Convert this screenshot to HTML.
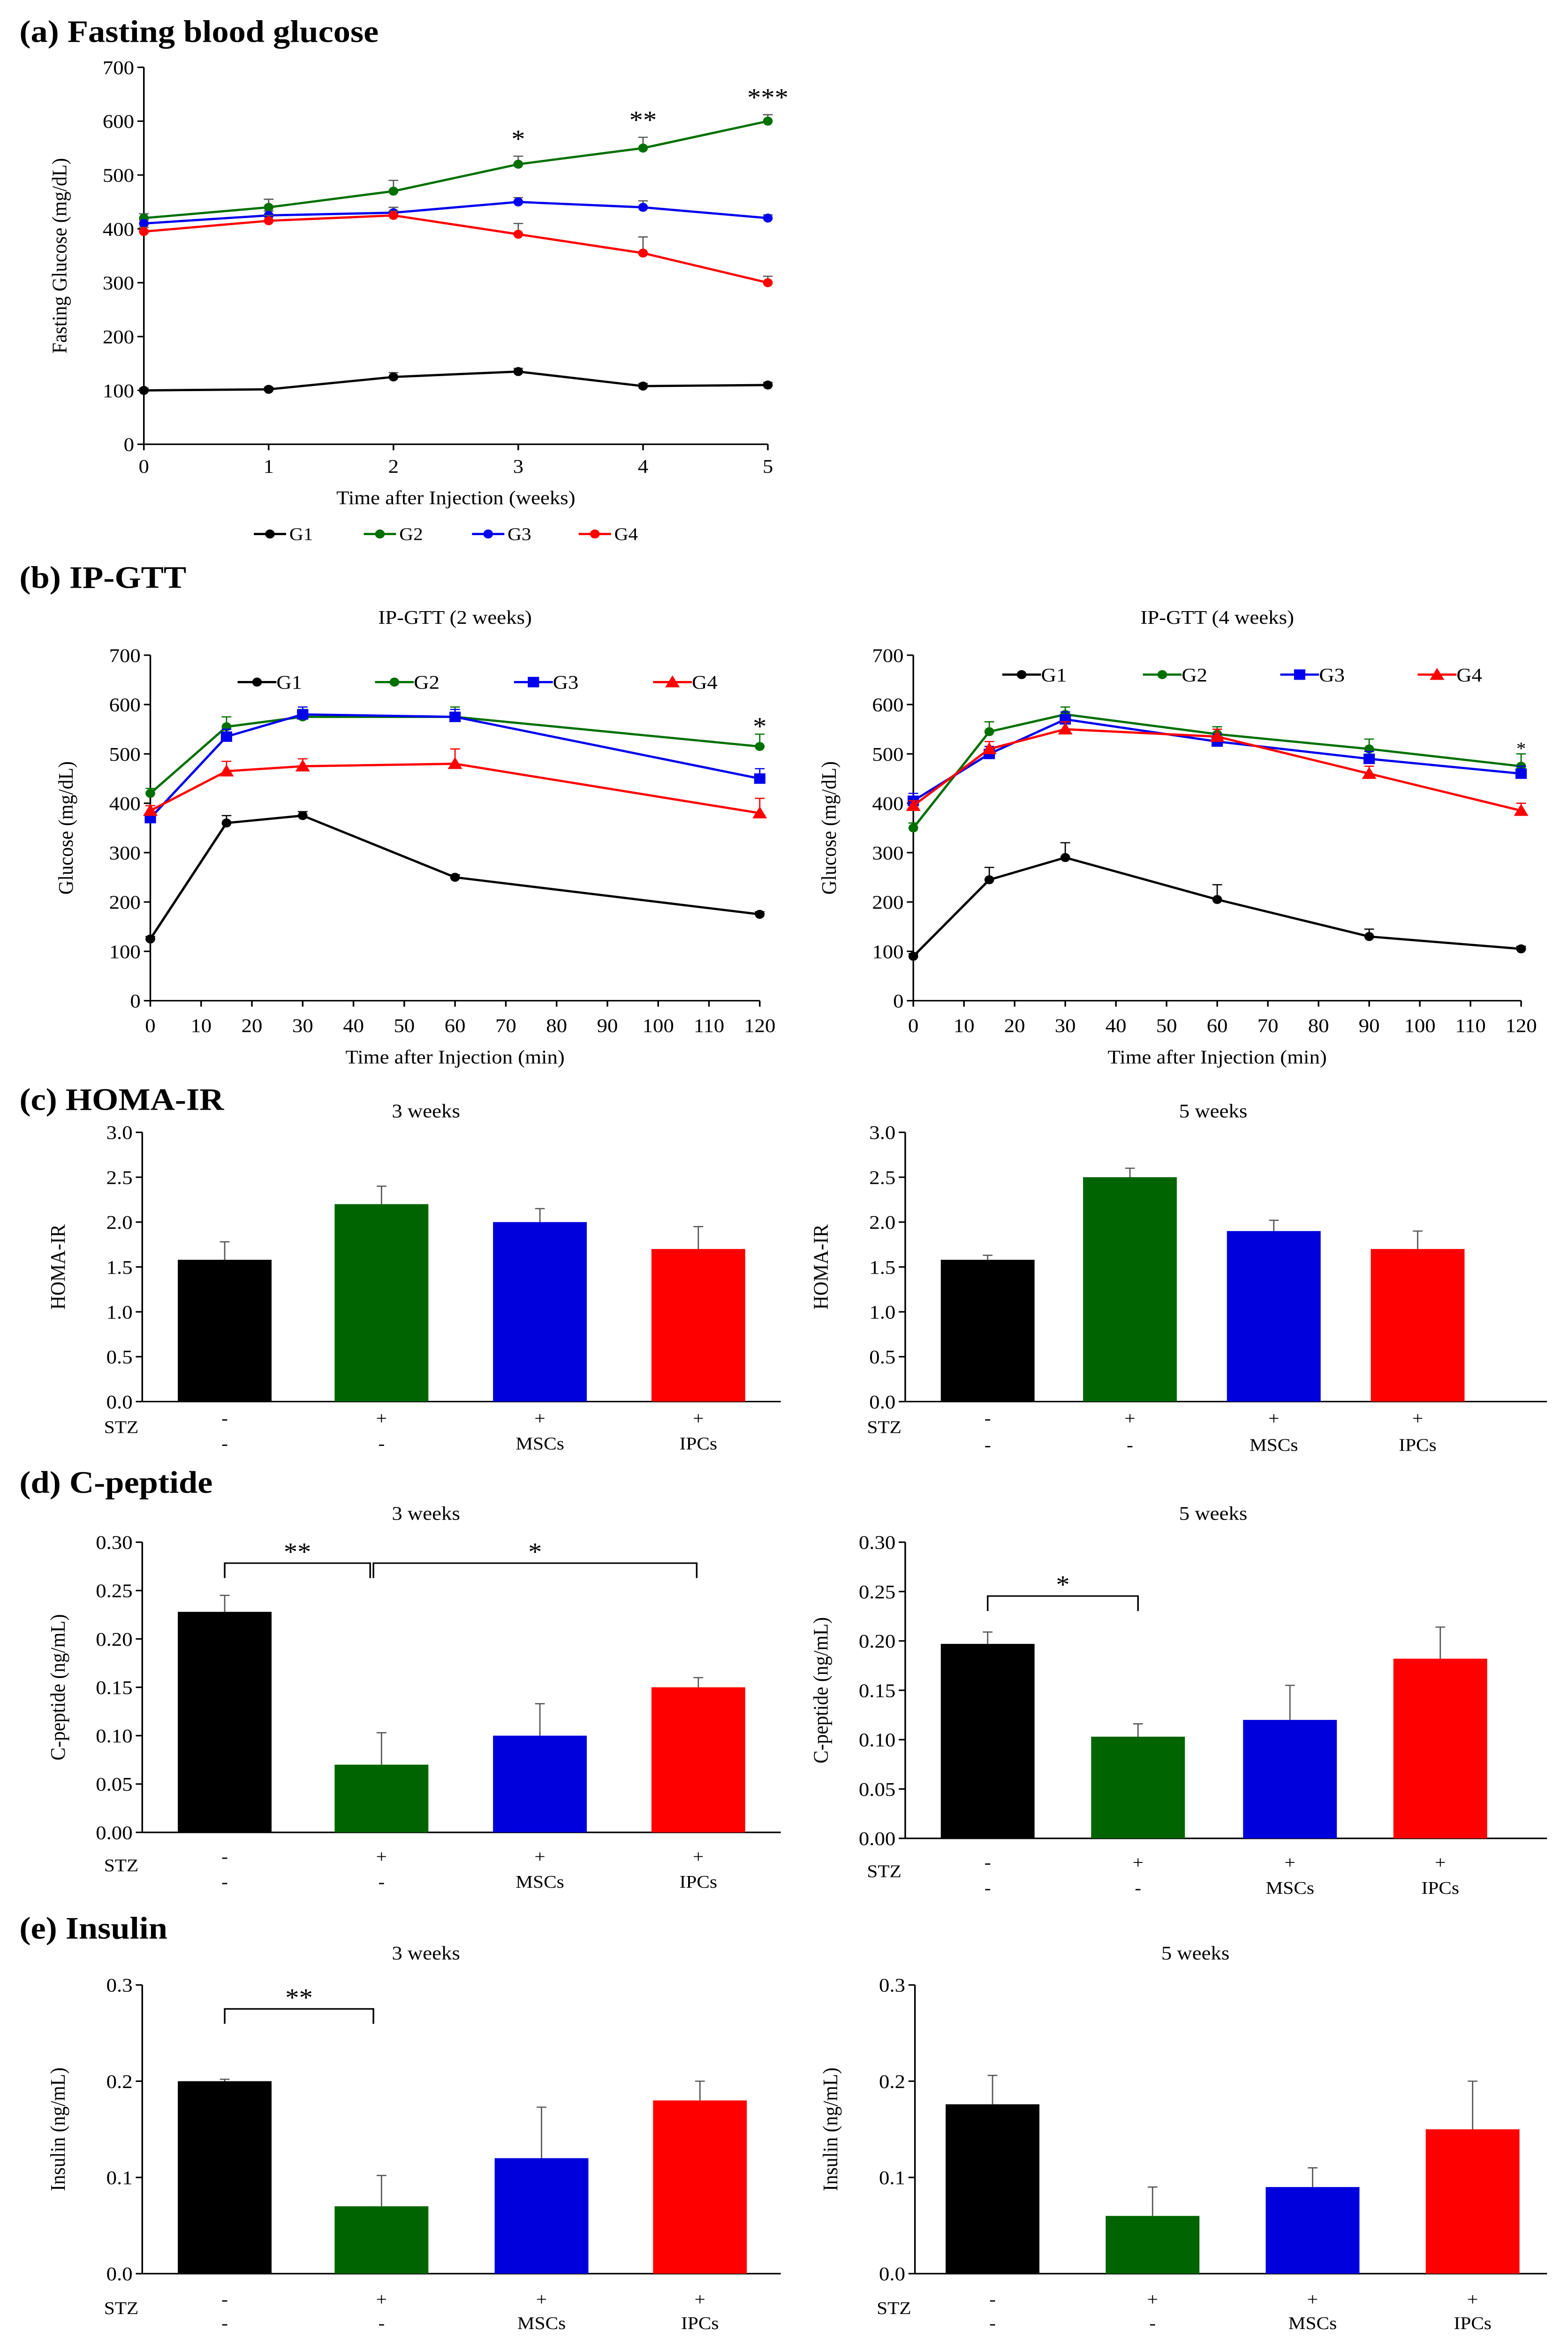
<!DOCTYPE html>
<html><head><meta charset="utf-8"><style>
html,body{margin:0;padding:0;background:#fff;width:100%;height:100%;overflow:hidden;}
svg{display:block;font-family:"Liberation Serif",serif;width:100vw;height:100vh;}
</style></head><body>
<svg id="fig" viewBox="0 0 970 1567.7" preserveAspectRatio="none" xmlns="http://www.w3.org/2000/svg"></svg>
<script>
// ---- data ----
const weeks=[0,1,2,3,4,5];
const fbgG1=[100,102,125,135,108,110];
const fbgG2=[420,440,470,520,550,600];
const fbgG3=[410,425,430,450,440,420];
const fbgG4=[395,415,425,390,355,300];
const fbgErr1=[4,4,8,6,5,5];
const fbgErr2=[8,15,20,15,20,12];
const fbgErr3=[6,8,10,8,12,6];
const fbgErr4=[8,10,8,20,30,12];
const fbgStars=["","","","*","**","***"];
const gtt2Times=[0,15,30,60,120];
const gtt2G1=[125,360,375,250,175];
const gtt2G2=[420,555,575,575,515];
const gtt2G3=[370,535,580,575,450];
const gtt2G4=[385,465,475,480,380];
const gtt2Err1=[5,15,8,5,5];
const gtt2Err2=[10,20,15,20,25];
const gtt2Err3=[10,15,15,15,20];
const gtt2Err4=[10,20,15,30,30];
const gtt4Times=[0,15,30,60,90,120];
const gtt4G1=[90,245,290,205,130,105];
const gtt4G2=[350,545,580,540,510,475];
const gtt4G3=[405,500,570,525,490,460];
const gtt4G4=[395,510,550,535,460,385];
const gtt4Err1=[5,25,30,30,15,5];
const gtt4Err2=[10,20,15,15,20,25];
const gtt4Err3=[15,15,15,15,15,15];
const gtt4Err4=[10,15,15,15,15,15];
const timeTicks=[0,10,20,30,40,50,60,70,80,90,100,110,120];
const groups=["G1","G2","G3","G4"];
const homa3=[1.58,2.2,2.0,1.7];
const homa3Err=[0.2,0.2,0.15,0.25];
const homa5=[1.58,2.5,1.9,1.7];
const homa5Err=[0.05,0.1,0.12,0.2];
const cpep3=[0.228,0.07,0.1,0.15];
const cpep3Err=[0.017,0.033,0.033,0.01];
const cpep5=[0.197,0.103,0.12,0.182];
const cpep5Err=[0.012,0.013,0.035,0.032];
const ins3=[0.2,0.07,0.12,0.18];
const ins3Err=[0.002,0.032,0.053,0.02];
const ins5=[0.176,0.06,0.09,0.15];
const ins5Err=[0.03,0.03,0.02,0.05];
const stzRow=["-","+","+","+"];
const cellRow=["-","-","MSCs","IPCs"];
const colors=["#000000","#007000","#0000ee","#ff0000"];
const barColors=["#000000","#006400","#0000dd","#ff0000"];

const NS="http://www.w3.org/2000/svg";
const svg=document.getElementById("fig");
function mk(tag,attrs,name,parent){
  const e=document.createElementNS(NS,tag);
  for(const k in attrs)e.setAttribute(k,attrs[k]);
  
  
  (parent||svg).appendChild(e);return e;
}
function txt(x,y,s,name,opt){
  opt=opt||{};
  const t=mk("text",{x:x,y:y,"font-size":opt.size||13,"text-anchor":opt.anchor||"middle",fill:"#000","font-weight":opt.bold?"bold":"normal"},name);
  if(opt.rot)t.setAttribute("transform","rotate(-90 "+x+" "+y+")");
  t.textContent=s;return t;
}
function line(x1,y1,x2,y2,name,c,w){return mk("line",{x1:x1,y1:y1,x2:x2,y2:y2,stroke:c||"#000","stroke-width":w||1},name);}
function marker(type,x,y,c,name){
  if(type==="s")return mk("rect",{x:x-3.5,y:y-3.5,width:7,height:7,fill:c},name);
  if(type==="t")return mk("polygon",{points:(x)+","+(y-4.5)+" "+(x-4.5)+","+(y+3.5)+" "+(x+4.5)+","+(y+3.5),fill:c},name);
  return mk("circle",{cx:x,cy:y,r:3,fill:c},name);
}
function yAxis(x0,x1,yb,yt,max,step,dec,label,name){
  const sy=v=>yb-(v/max)*(yb-yt);
  line(x0,yb,x0,yt,name+"-y-axis");
  for(let v=0;v<=max+1e-9;v+=step){
    line(x0-4,sy(v),x0,sy(v),name+"-y-tick");
    txt(x0-6,sy(v)+4.5,v.toFixed(dec),name+"-y-tick-label",{anchor:"end"});
  }
  txt(x0-48,(yb+yt)/2,label,name+"-y-axis-title",{rot:true});
  line(x0,yb,x1,yb,name+"-x-axis");
  return sy;
}
function section(y,s,name){txt(12,y,s,name,{anchor:"start",size:21,bold:true});}

// ---- (a) ----
section(28,"(a) Fasting blood glucose","title-a");
(function(){
  const x0=89,x1=475,yb=297,yt=45;
  const sy=yAxis(x0,x1,yb,yt,700,100,0,"Fasting Glucose (mg/dL)","fbg");
  const sx=w=>x0+w/5*(x1-x0);
  weeks.forEach(w=>{line(sx(w),yb,sx(w),yb+4,"fbg-x-tick");txt(sx(w),yb+19,String(w),"fbg-x-tick-label");});
  txt((x0+x1)/2,337,"Time after Injection (weeks)","fbg-x-axis-title");
  const series=[fbgG1,fbgG2,fbgG3,fbgG4],errs=[fbgErr1,fbgErr2,fbgErr3,fbgErr4];
  series.forEach((s,g)=>{
    const c=g===0?"#000":colors[g];
    mk("polyline",{points:s.map((v,i)=>sx(weeks[i])+","+sy(v)).join(" "),fill:"none",stroke:c,"stroke-width":1.5},"fbg-line-"+groups[g]);
    s.forEach((v,i)=>{
      line(sx(weeks[i]),sy(v),sx(weeks[i]),sy(v+errs[g][i]),"fbg-error-bar","#555",0.8);
      line(sx(weeks[i])-3,sy(v+errs[g][i]),sx(weeks[i])+3,sy(v+errs[g][i]),"fbg-error-cap","#555",0.8);
      marker("c",sx(weeks[i]),sy(v),c,"fbg-point-"+groups[g]);
    });
  });
  fbgStars.forEach((s,i)=>{if(s)txt(sx(weeks[i]),sy(fbgG2[i]+fbgErr2[i])-6,s,"fbg-significance",{size:17});});
  const lx=[157,225,292,358];
  groups.forEach((g,i)=>{
    line(lx[i],357,lx[i]+20,357,"legend-line-"+g,i===0?"#000":colors[i],1.5);
    marker("c",lx[i]+10,357,i===0?"#000":colors[i],"legend-marker-"+g);
    txt(lx[i]+22,361,g,"legend-label-"+g,{anchor:"start",size:12});
  });
})();

// ---- (b) ----
section(393,"(b) IP-GTT","title-b");
function gtt(x0,x1,times,series,errs,title,legY,legX,name){
  const yb=669,yt=438;
  const sy=yAxis(x0,x1,yb,yt,700,100,0,"Glucose (mg/dL)",name);
  const sx=t=>x0+t/120*(x1-x0);
  timeTicks.forEach(t=>{line(sx(t),yb,sx(t),yb+4,name+"-x-tick");txt(sx(t),yb+21,String(t),name+"-x-tick-label");});
  txt((x0+x1)/2,711,"Time after Injection (min)",name+"-x-axis-title");
  txt((x0+x1)/2,417,title,name+"-title");
  const mt=["c","c","s","t"];
  series.forEach((s,g)=>{
    mk("polyline",{points:s.map((v,i)=>sx(times[i])+","+sy(v)).join(" "),fill:"none",stroke:colors[g],"stroke-width":1.5},name+"-line-"+groups[g]);
    s.forEach((v,i)=>{
      line(sx(times[i]),sy(v),sx(times[i]),sy(v+errs[g][i]),name+"-error-bar",colors[g],0.8);
      line(sx(times[i])-3,sy(v+errs[g][i]),sx(times[i])+3,sy(v+errs[g][i]),name+"-error-cap",colors[g],0.8);
      marker(mt[g],sx(times[i]),sy(v),colors[g],name+"-point-"+groups[g]);
    });
  });
  groups.forEach((g,i)=>{
    line(legX[i],legY,legX[i]+24,legY,name+"-legend-line-"+g,colors[i],1.5);
    marker(mt[i],legX[i]+12,legY,colors[i],name+"-legend-marker-"+g);
    txt(legX[i]+24,legY+4.5,g,name+"-legend-label-"+g,{anchor:"start",size:13});
  });
  return {sx,sy};
}
(function(){
  const a=gtt(93,470,gtt2Times,[gtt2G1,gtt2G2,gtt2G3,gtt2G4],[gtt2Err1,gtt2Err2,gtt2Err3,gtt2Err4],"IP-GTT (2 weeks)",456,[147,232,318,404],"gtt2");
  txt(a.sx(120),a.sy(545)+2,"*","gtt2-significance",{size:17});
  const b=gtt(565,941,gtt4Times,[gtt4G1,gtt4G2,gtt4G3,gtt4G4],[gtt4Err1,gtt4Err2,gtt4Err3,gtt4Err4],"IP-GTT (4 weeks)",451,[620,707,792,877],"gtt4");
  txt(b.sx(120),b.sy(505)+2,"*","gtt4-significance",{size:12});
})();

// ---- bar charts ----
function bars(o){
  const sy=yAxis(o.x0,o.x1,o.yb,o.yt,o.max,o.step,o.dec,o.ylabel,o.name);
  txt((o.x0+o.x1)/2+(o.tdx||0),o.ty,o.title,o.name+"-title");
  o.vals.forEach((v,i)=>{
    const cx=o.cx[i];
    mk("rect",{x:cx-29,y:sy(v),width:58,height:o.yb-sy(v),fill:barColors[i]},o.name+"-bar-"+groups[i]);
    line(cx,sy(v),cx,sy(v+o.err[i]),o.name+"-error-bar","#555",0.8);
    line(cx-3,sy(v+o.err[i]),cx+3,sy(v+o.err[i]),o.name+"-error-cap","#555",0.8);
    txt(cx,o.lr1,stzRow[i],o.name+"-stz-label",{size:12});
    txt(cx,o.lr2,cellRow[i],o.name+"-cell-label",{size:12});
  });
  txt(o.x0-13,o.lr1+6,"STZ",o.name+"-stz-row-title",{size:12});
  (o.brackets||[]).forEach(b=>{
    mk("polyline",{points:b[0]+","+(b[2]+10)+" "+b[0]+","+b[2]+" "+b[1]+","+b[2]+" "+b[1]+","+(b[2]+10),fill:"none",stroke:"#000","stroke-width":1},o.name+"-bracket");
    txt((b[0]+b[1])/2,b[2]-2,b[3],o.name+"-significance",{size:17});
  });
}
section(742,"(c) HOMA-IR","title-c");
bars({name:"homa3",x0:88,x1:483,yb:937,yt:757,max:3,step:0.5,dec:1,ylabel:"HOMA-IR",title:"3 weeks",ty:747,tdx:-22,vals:homa3,err:homa3Err,cx:[139,236,334,432],lr1:952,lr2:969});
bars({name:"homa5",x0:560,x1:957,yb:937,yt:757,max:3,step:0.5,dec:1,ylabel:"HOMA-IR",title:"5 weeks",ty:747,tdx:-8,vals:homa5,err:homa5Err,cx:[611,699,788,877],lr1:952,lr2:970});
section(998,"(d) C-peptide","title-d");
bars({name:"cpep3",x0:88,x1:483,yb:1225,yt:1031,max:0.3,step:0.05,dec:2,ylabel:"C-peptide (ng/mL)",title:"3 weeks",ty:1016,tdx:-22,vals:cpep3,err:cpep3Err,cx:[139,236,334,432],lr1:1245,lr2:1262,brackets:[[139,229,1045,"**"],[231,431,1045,"*"]]});
bars({name:"cpep5",x0:560,x1:957,yb:1229,yt:1031,max:0.3,step:0.05,dec:2,ylabel:"C-peptide (ng/mL)",title:"5 weeks",ty:1016,tdx:-8,vals:cpep5,err:cpep5Err,cx:[611,704,798,891],lr1:1249,lr2:1266,brackets:[[611,704,1067,"*"]]});
section(1296,"(e) Insulin","title-e");
bars({name:"ins3",x0:88,x1:483,yb:1520,yt:1327,max:0.3,step:0.1,dec:1,ylabel:"Insulin (ng/mL)",title:"3 weeks",ty:1310,tdx:-22,vals:ins3,err:ins3Err,cx:[139,236,335,433],lr1:1541,lr2:1557,brackets:[[139,231,1343,"**"]]});
bars({name:"ins5",x0:566,x1:957,yb:1520,yt:1327,max:0.3,step:0.1,dec:1,ylabel:"Insulin (ng/mL)",title:"5 weeks",ty:1310,tdx:-22,vals:ins5,err:ins5Err,cx:[614,713,812,911],lr1:1541,lr2:1557});
</script>
</body></html>
